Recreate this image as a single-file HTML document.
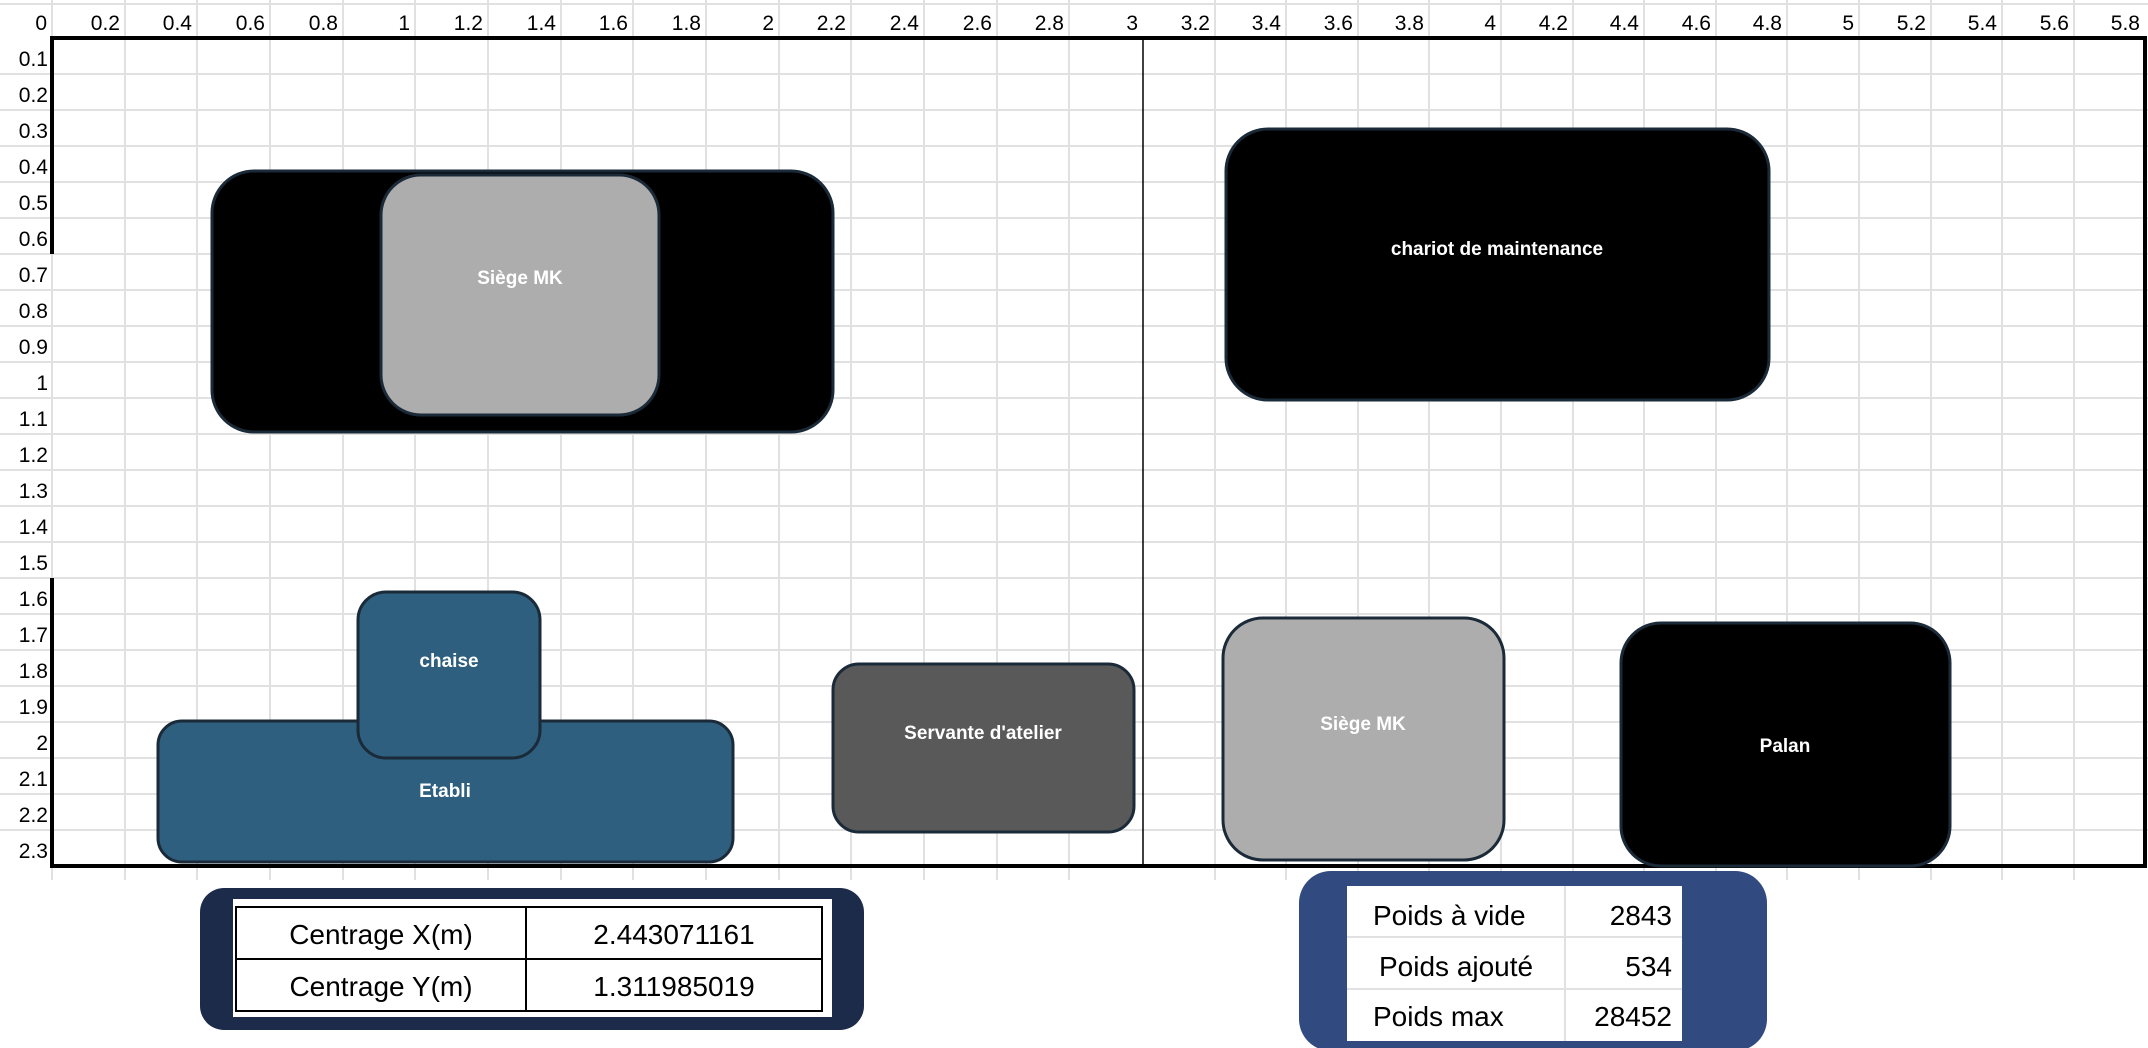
<!DOCTYPE html>
<html><head><meta charset="utf-8"><style>
html,body{margin:0;padding:0;background:#fff}
svg{display:block}
text{font-family:"Liberation Sans",sans-serif}
.lx{font-size:21px;fill:#000;text-anchor:end}
.sh{font-size:19px;fill:#fff;font-weight:bold;text-anchor:middle}
.tb{font-size:28px;fill:#000}
</style></head><body>
<svg width="2148" height="1048" viewBox="0 0 2148 1048" xmlns="http://www.w3.org/2000/svg">
<g stroke="#e1e1e1" stroke-width="2">
<line x1="52" y1="0" x2="52" y2="880"/><line x1="125" y1="0" x2="125" y2="880"/><line x1="197" y1="0" x2="197" y2="880"/><line x1="270" y1="0" x2="270" y2="880"/><line x1="343" y1="0" x2="343" y2="880"/><line x1="415" y1="0" x2="415" y2="880"/><line x1="488" y1="0" x2="488" y2="880"/><line x1="561" y1="0" x2="561" y2="880"/><line x1="633" y1="0" x2="633" y2="880"/><line x1="706" y1="0" x2="706" y2="880"/><line x1="779" y1="0" x2="779" y2="880"/><line x1="851" y1="0" x2="851" y2="880"/><line x1="924" y1="0" x2="924" y2="880"/><line x1="997" y1="0" x2="997" y2="880"/><line x1="1069" y1="0" x2="1069" y2="880"/><line x1="1215" y1="0" x2="1215" y2="880"/><line x1="1286" y1="0" x2="1286" y2="880"/><line x1="1358" y1="0" x2="1358" y2="880"/><line x1="1429" y1="0" x2="1429" y2="880"/><line x1="1501" y1="0" x2="1501" y2="880"/><line x1="1573" y1="0" x2="1573" y2="880"/><line x1="1644" y1="0" x2="1644" y2="880"/><line x1="1716" y1="0" x2="1716" y2="880"/><line x1="1787" y1="0" x2="1787" y2="880"/><line x1="1859" y1="0" x2="1859" y2="880"/><line x1="1931" y1="0" x2="1931" y2="880"/><line x1="2002" y1="0" x2="2002" y2="880"/><line x1="2074" y1="0" x2="2074" y2="880"/>
<line x1="0" y1="4" x2="2148" y2="4"/>
<line x1="0" y1="74" x2="2148" y2="74"/><line x1="0" y1="110" x2="2148" y2="110"/><line x1="0" y1="146" x2="2148" y2="146"/><line x1="0" y1="182" x2="2148" y2="182"/><line x1="0" y1="218" x2="2148" y2="218"/><line x1="0" y1="254" x2="2148" y2="254"/><line x1="0" y1="290" x2="2148" y2="290"/><line x1="0" y1="326" x2="2148" y2="326"/><line x1="0" y1="362" x2="2148" y2="362"/><line x1="0" y1="398" x2="2148" y2="398"/><line x1="0" y1="434" x2="2148" y2="434"/><line x1="0" y1="470" x2="2148" y2="470"/><line x1="0" y1="506" x2="2148" y2="506"/><line x1="0" y1="542" x2="2148" y2="542"/><line x1="0" y1="578" x2="2148" y2="578"/><line x1="0" y1="614" x2="2148" y2="614"/><line x1="0" y1="650" x2="2148" y2="650"/><line x1="0" y1="686" x2="2148" y2="686"/><line x1="0" y1="722" x2="2148" y2="722"/><line x1="0" y1="758" x2="2148" y2="758"/><line x1="0" y1="794" x2="2148" y2="794"/><line x1="0" y1="830" x2="2148" y2="830"/>
</g>
<g class="lx">
<text x="47" y="30" class="lx">0</text><text x="120" y="30" class="lx">0.2</text><text x="192" y="30" class="lx">0.4</text><text x="265" y="30" class="lx">0.6</text><text x="338" y="30" class="lx">0.8</text><text x="410" y="30" class="lx">1</text><text x="483" y="30" class="lx">1.2</text><text x="556" y="30" class="lx">1.4</text><text x="628" y="30" class="lx">1.6</text><text x="701" y="30" class="lx">1.8</text><text x="774" y="30" class="lx">2</text><text x="846" y="30" class="lx">2.2</text><text x="919" y="30" class="lx">2.4</text><text x="992" y="30" class="lx">2.6</text><text x="1064" y="30" class="lx">2.8</text><text x="1138" y="30" class="lx">3</text><text x="1210" y="30" class="lx">3.2</text><text x="1281" y="30" class="lx">3.4</text><text x="1353" y="30" class="lx">3.6</text><text x="1424" y="30" class="lx">3.8</text><text x="1496" y="30" class="lx">4</text><text x="1568" y="30" class="lx">4.2</text><text x="1639" y="30" class="lx">4.4</text><text x="1711" y="30" class="lx">4.6</text><text x="1782" y="30" class="lx">4.8</text><text x="1854" y="30" class="lx">5</text><text x="1926" y="30" class="lx">5.2</text><text x="1997" y="30" class="lx">5.4</text><text x="2069" y="30" class="lx">5.6</text><text x="2140" y="30" class="lx">5.8</text>
<text x="48" y="66" class="lx">0.1</text><text x="48" y="102" class="lx">0.2</text><text x="48" y="138" class="lx">0.3</text><text x="48" y="174" class="lx">0.4</text><text x="48" y="210" class="lx">0.5</text><text x="48" y="246" class="lx">0.6</text><text x="48" y="282" class="lx">0.7</text><text x="48" y="318" class="lx">0.8</text><text x="48" y="354" class="lx">0.9</text><text x="48" y="390" class="lx">1</text><text x="48" y="426" class="lx">1.1</text><text x="48" y="462" class="lx">1.2</text><text x="48" y="498" class="lx">1.3</text><text x="48" y="534" class="lx">1.4</text><text x="48" y="570" class="lx">1.5</text><text x="48" y="606" class="lx">1.6</text><text x="48" y="642" class="lx">1.7</text><text x="48" y="678" class="lx">1.8</text><text x="48" y="714" class="lx">1.9</text><text x="48" y="750" class="lx">2</text><text x="48" y="786" class="lx">2.1</text><text x="48" y="822" class="lx">2.2</text><text x="48" y="858" class="lx">2.3</text>
</g>
<rect x="53" y="40" width="2090" height="825" fill="none"/>
<g stroke="#000">
<line x1="50" y1="38" x2="2147" y2="38" stroke-width="4"/>
<line x1="52" y1="36" x2="52" y2="254" stroke-width="4"/>
<line x1="52" y1="578" x2="52" y2="868" stroke-width="4"/>
<line x1="2145" y1="36" x2="2145" y2="868" stroke-width="4"/>
<line x1="50" y1="866" x2="2147" y2="866" stroke-width="4"/>
<line x1="1143" y1="38" x2="1143" y2="866" stroke-width="1.5"/>
</g>
<g stroke="#1b2a38" stroke-width="3">
<rect x="212" y="171" width="621" height="261" rx="42" fill="#000"/>
<rect x="381" y="175" width="278" height="240" rx="40" fill="#adadad"/>
<rect x="1226" y="129" width="543" height="271" rx="42" fill="#000"/>
<rect x="158" y="721" width="575" height="141" rx="24" fill="#2e5f7e"/>
<rect x="358" y="592" width="182" height="166" rx="28" fill="#2e5f7e"/>
<rect x="833" y="664" width="301" height="168" rx="26" fill="#595959"/>
<rect x="1223" y="618" width="281" height="242" rx="40" fill="#adadad"/>
<rect x="1621" y="623" width="329" height="243" rx="40" fill="#000"/>
</g>
<text x="520" y="284" class="sh">Siège MK</text>
<text x="1497" y="255" class="sh">chariot de maintenance</text>
<text x="449" y="667" class="sh">chaise</text>
<text x="445" y="797" class="sh">Etabli</text>
<text x="983" y="739" class="sh">Servante d'atelier</text>
<text x="1363" y="730" class="sh">Siège MK</text>
<text x="1785" y="752" class="sh">Palan</text>
<rect x="200" y="888" width="664" height="142" rx="24" fill="#1d2b4b"/>
<rect x="233" y="899" width="599" height="118" fill="#fff"/>
<g stroke="#000" stroke-width="2" fill="none">
<rect x="236" y="907" width="586" height="104"/>
<line x1="236" y1="959" x2="822" y2="959"/>
<line x1="526" y1="907" x2="526" y2="1011"/>
</g>
<text x="381" y="944" class="tb" text-anchor="middle">Centrage X(m)</text>
<text x="674" y="944" class="tb" text-anchor="middle">2.443071161</text>
<text x="381" y="996" class="tb" text-anchor="middle">Centrage Y(m)</text>
<text x="674" y="996" class="tb" text-anchor="middle">1.311985019</text>
<rect x="1299" y="871" width="468" height="180" rx="32" fill="#314a80"/>
<rect x="1347" y="886" width="335" height="155" fill="#fff"/>
<g stroke="#e1e1e1" stroke-width="2">
<line x1="1347" y1="937" x2="1682" y2="937"/><line x1="1347" y1="989" x2="1682" y2="989"/>
<line x1="1565" y1="886" x2="1565" y2="1041"/>
</g>
<text x="1373" y="925" class="tb">Poids à vide</text>
<text x="1672" y="925" class="tb" text-anchor="end">2843</text>
<text x="1379" y="976" class="tb">Poids ajouté</text>
<text x="1672" y="976" class="tb" text-anchor="end">534</text>
<text x="1373" y="1026" class="tb">Poids max</text>
<text x="1672" y="1026" class="tb" text-anchor="end">28452</text>
</svg>
</body></html>
